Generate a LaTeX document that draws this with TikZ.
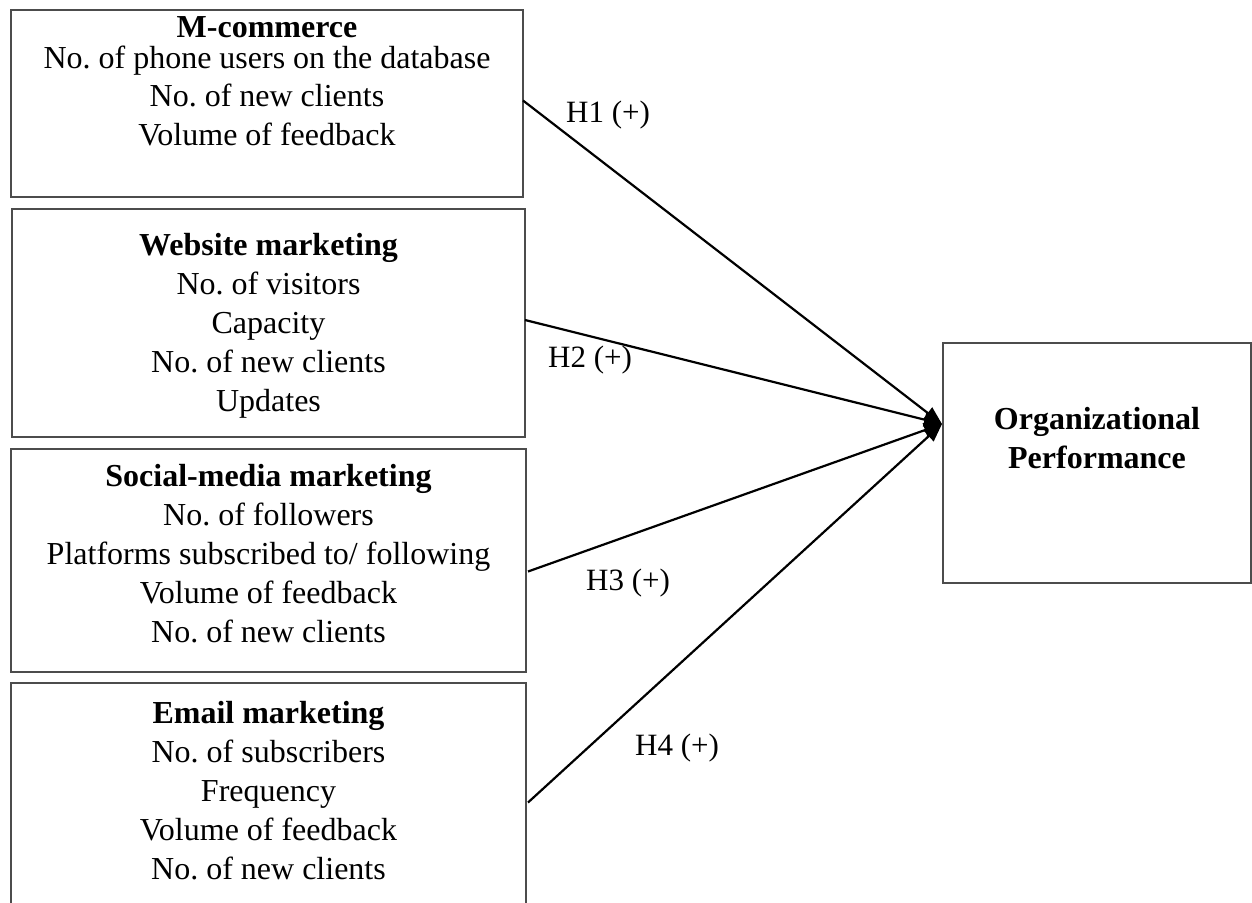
\documentclass[tikz,border=0pt]{standalone}
\usepackage{fontspec}
\setmainfont{Liberation Serif}
\usetikzlibrary{positioning,arrows.meta}
\frenchspacing

\begin{document}
\begin{tikzpicture}[
    x=1pt, y=-1pt, >={Triangle[length=18pt, width=14pt]},
    box/.style={draw=black!70, line width=1.5pt, inner sep=0pt, outer sep=0pt},
    txt/.style={align=center, inner sep=0pt, font=\fontsize{32}{39}\selectfont},
    res/.style={align=center, inner sep=0pt, font=\fontsize{32}{39}\selectfont\bfseries},
    hyp/.style={anchor=base west, inner sep=0pt, font=\fontsize{31}{36}\selectfont},
    link/.style={->, line width=2.2pt}]
  \useasboundingbox (0,0) rectangle (1252,902);
  \node[box, minimum width=512pt, minimum height=187pt] (mc) at (267,103.5) {};
  \node[box, minimum width=513pt, minimum height=228pt] (web) at (268.5,323) {};
  \node[box, minimum width=515pt, minimum height=223pt] (sm) at (268.5,560.5) {};
  \node[box, minimum width=515pt, minimum height=239pt] (em) at (268.5,802.5) {};
  \node[box, minimum width=308pt, minimum height=240pt] (op) at (1097,463) {};
  \node[txt, below=6pt of mc.north] (mctxt) {\textbf{M-commerce}\\[-8pt] No. of phone users on the database\\[-1pt] No. of new clients\\ Volume of feedback};
  \node[txt, below=24pt of web.north] (webtxt) {\textbf{Website marketing}\\ No. of visitors\\ Capacity\\ No. of new clients\\ Updates};
  \node[txt, below=15pt of sm.north] (smtxt) {\textbf{Social-media marketing}\\ No. of followers\\ Platforms subscribed to/ following\\ Volume of feedback\\ No. of new clients};
  \node[txt, below=18pt of em.north] (emtxt) {\textbf{Email marketing}\\ No. of subscribers\\ Frequency\\ Volume of feedback\\ No. of new clients};
  \node[res, below=64pt of op.north] (optxt) {Organizational\\ Performance};
  \coordinate (tip) at ([xshift=-1pt, yshift=39pt]op.west);
  \draw[link] ([yshift=3pt]mc.east) -- (tip);
  \draw[link] ([yshift=3pt]web.east) -- (tip);
  \draw[link] ([xshift=2pt, yshift=-11pt]sm.east) -- (tip);
  \draw[link] ([xshift=2pt]em.east) -- (tip);
  \node[hyp] (h1) at (566,122) {H1 (+)};
  \node[hyp] (h2) at (548,367) {H2 (+)};
  \node[hyp] (h3) at (586,590) {H3 (+)};
  \node[hyp] (h4) at (635,755) {H4 (+)};
\end{tikzpicture}
\end{document}
